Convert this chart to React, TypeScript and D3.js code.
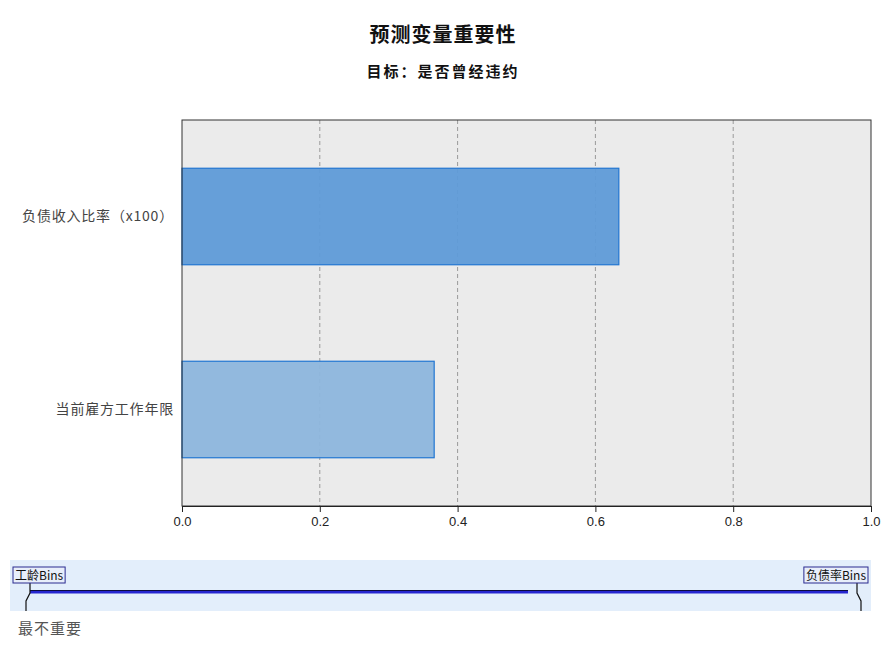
import { useEffect, useRef } from "react"
import * as d3 from "d3"

const predictors = ["负债收入比率（x100）", "当前雇方工作年限"]
const importance = [0.634, 0.366]
const barFills = ["#5f9bd8", "#8db6dd"]
const xTicks = [0, 0.2, 0.4, 0.6, 0.8, 1.0]
const binLabels = ["工龄Bins", "负债率Bins"]
const binPositions = [0, 1]

const FONT = "'Noto Sans CJK SC', 'DejaVu Sans', sans-serif"

export default function App() {
  const svgRef = useRef<SVGSVGElement>(null)

  useEffect(() => {
    if (!svgRef.current) return
    const svg = d3.select(svgRef.current)
    svg.selectAll("*").remove()

    const plot = { left: 182, right: 871, top: 120, bottom: 506 }

    // titles
    svg.append("text")
      .attr("x", 443).attr("y", 42)
      .attr("text-anchor", "middle")
      .attr("font-family", FONT).attr("font-weight", "bold")
      .attr("font-size", 20).attr("letter-spacing", 1).attr("fill", "#111")
      .text("预测变量重要性")
    svg.append("text")
      .attr("x", 443).attr("y", 77)
      .attr("text-anchor", "middle")
      .attr("font-family", FONT).attr("font-weight", "bold")
      .attr("font-size", 15).attr("letter-spacing", 2).attr("fill", "#111")
      .text("目标：是否曾经违约")

    const x = d3.scaleLinear().domain([0, 1]).range([plot.left, plot.right])
    const y = d3.scaleBand<string>()
      .domain(predictors)
      .range([plot.top, plot.bottom])
      .paddingInner(0.5)
      .paddingOuter(0.25)

    // background
    svg.append("rect")
      .attr("x", plot.left).attr("y", plot.top)
      .attr("width", plot.right - plot.left).attr("height", plot.bottom - plot.top)
      .attr("fill", "#ebebeb")

    // grid
    svg.append("g")
      .selectAll("line")
      .data(xTicks.filter((t) => t > 0 && t < 1))
      .join("line")
      .attr("x1", (d) => x(d)).attr("x2", (d) => x(d))
      .attr("y1", plot.top).attr("y2", plot.bottom)
      .attr("stroke", "#9a9a9a")
      .attr("stroke-dasharray", "4,3")

    // bars
    svg.append("g")
      .selectAll("rect")
      .data(importance)
      .join("rect")
      .attr("x", x(0))
      .attr("y", (_, i) => y(predictors[i])!)
      .attr("width", (d) => x(d) - x(0))
      .attr("height", y.bandwidth())
      .attr("fill", (_, i) => barFills[i])
      .attr("fill-opacity", 0.95)
      .attr("stroke", "#2176d2")
      .attr("stroke-width", 1.2)

    // frame
    svg.append("rect")
      .attr("x", plot.left).attr("y", plot.top)
      .attr("width", plot.right - plot.left).attr("height", plot.bottom - plot.top)
      .attr("fill", "none")
      .attr("stroke", "#333")
      .attr("stroke-width", 1)

    // x axis
    const xAxis = svg.append("g")
      .attr("transform", `translate(0,${plot.bottom})`)
      .call(d3.axisBottom(x).tickValues(xTicks).tickFormat(d3.format(".1f")).tickSizeOuter(0).tickSize(6))
    xAxis.select(".domain").attr("stroke", "#222")
    xAxis.selectAll("line").attr("stroke", "#222")
    xAxis.selectAll("text")
      .attr("font-family", "'Liberation Sans', Arial, sans-serif")
      .attr("font-size", 13).attr("fill", "#222")
      .attr("dy", "0.85em")

    // y labels
    svg.append("g")
      .selectAll("text")
      .data(predictors)
      .join("text")
      .attr("x", 174)
      .attr("y", (d) => y(d)! + y.bandwidth() / 2)
      .attr("dy", "0.35em")
      .attr("text-anchor", "end")
      .attr("font-family", FONT)
      .attr("font-size", 14).attr("letter-spacing", 0.8).attr("fill", "#444")
      .text((d) => d)

    // importance slider panel
    const band = { left: 10, right: 871, top: 560, bottom: 611 }
    svg.append("rect")
      .attr("x", band.left).attr("y", band.top)
      .attr("width", band.right - band.left).attr("height", band.bottom - band.top)
      .attr("fill", "#e3eefb")

    const s = d3.scaleLinear().domain([0, 1]).range([30, 848])
    const lineY = 592
    svg.append("line")
      .attr("x1", s(0)).attr("x2", s(1))
      .attr("y1", lineY).attr("y2", lineY)
      .attr("stroke", "#2626d0").attr("stroke-width", 3)
    svg.append("line")
      .attr("x1", s(0)).attr("x2", s(1))
      .attr("y1", lineY - 1.5).attr("y2", lineY - 1.5)
      .attr("stroke", "#0a0a40").attr("stroke-width", 1)

    // bin markers
    const markerX = [30, 857]
    binLabels.forEach((label, i) => {
      const mx = markerX[i]
      const dir = binPositions[i] === 0 ? -1 : 1
      svg.append("path")
        .attr("d", `M${mx},583 L${mx},593 L${mx + dir * 4},601 L${mx + dir * 4},611`)
        .attr("fill", "none").attr("stroke", "#111").attr("stroke-width", 1.2)
      const g = svg.append("g")
      const box = g.append("rect")
      const t = g.append("text")
        .attr("y", 579.5)
        .attr("font-family", FONT)
        .attr("font-size", 12).attr("fill", "#111")
        .text(label)
      const w = (t.node() as SVGTextElement).getComputedTextLength()
      const bx = binPositions[i] === 0 ? 13 : 868 - w - 4
      t.attr("x", bx + 2)
      box
        .attr("x", bx).attr("y", 567)
        .attr("width", w + 4).attr("height", 16)
        .attr("fill", "#e8eefa")
        .attr("stroke", "#2a2a90").attr("stroke-width", 1)
    })

    svg.append("text")
      .attr("x", 18).attr("y", 634)
      .attr("font-family", FONT)
      .attr("font-size", 15).attr("letter-spacing", 1).attr("fill", "#555")
      .text("最不重要")
  }, [])

  return (
    <svg
      ref={svgRef}
      width={886}
      height={646}
      style={{ position: "absolute", left: 0, top: 0, background: "#fff" }}
    />
  )
}
